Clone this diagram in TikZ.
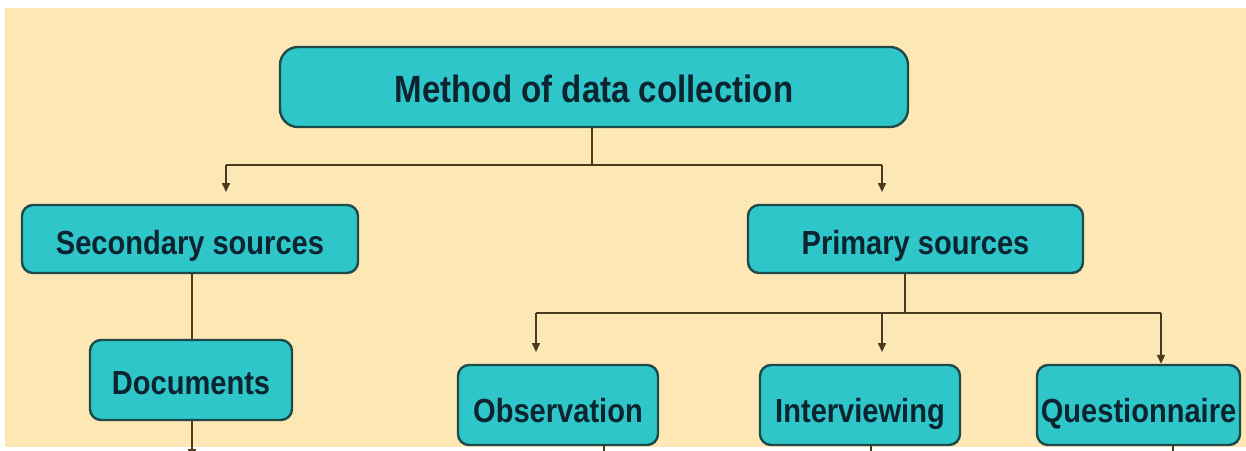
\documentclass[tikz,border=0pt]{standalone}
\usepackage{fontspec}
\setmainfont{Liberation Sans}
\newfontfamily\condfont[FakeStretch=0.87]{Liberation Sans}
\usetikzlibrary{arrows.meta,calc}
\definecolor{bgcream}{HTML}{FDE7B4}
\definecolor{boxfill}{HTML}{2EC6C9}
\definecolor{boxline}{HTML}{1E4A4A}
\definecolor{txtcol}{HTML}{0B2430}
\definecolor{linecol}{HTML}{4A3A1E}
\tikzset{
  box/.style={draw=boxline, line width=2.4pt, fill=boxfill, rounded corners=11pt,
    inner sep=0pt, text=txtcol, text depth=0pt, text height=30pt,
    font=\condfont\bfseries\fontsize{33.4}{36}\selectfont},
  topbox/.style={box, rounded corners=18pt, text height=30pt,
    font=\condfont\bfseries\fontsize{38}{40}\selectfont},
  lowbox/.style={box, text height=34pt},
  conn/.style={draw=linecol, line width=1.8pt},
  arr/.style={conn, -{Triangle[length=9pt,width=8pt]}},
}
\begin{document}
\begin{tikzpicture}[x=1pt,y=-1pt]
\useasboundingbox (0,0) rectangle (1246,450);
\fill[white] (0,0) rectangle (1246,450);
\fill[bgcream] (5,8) rectangle (1246,447);
\node[topbox, minimum width=628pt, minimum height=80pt] (top) at (594,87) {Method of data collection};
\node[box, minimum width=336pt, minimum height=68pt] (sec) at (190,239) {Secondary sources};
\node[box, minimum width=335pt, minimum height=68pt] (prim) at (915.5,239) {Primary sources};
\node[box, text height=28pt, minimum width=202pt, minimum height=80pt] (doc) at (191,380) {Documents};
\node[lowbox, minimum width=200pt, minimum height=80pt] (obs) at (558,405) {Observation};
\node[lowbox, minimum width=200pt, minimum height=80pt] (int) at (860,405) {Interviewing};
\node[lowbox, minimum width=203pt, minimum height=80pt] (que) at (1138.5,405) {Questionnaire};
% coordinates
\coordinate (tj) at (592,165);
\coordinate (tl) at (226,165);
\coordinate (tr) at (882,165);
\coordinate (tlE) at (226,192);
\coordinate (trE) at (882,192);
\coordinate (sd) at (192,300);
\coordinate (pj) at (905,313);
\coordinate (pl) at (536,313);
\coordinate (pm) at (882,313);
\coordinate (pr) at (1161,313);
\coordinate (plE) at (536,352);
\coordinate (pmE) at (882,352);
\coordinate (docE) at (192,458);
\coordinate (obsE) at (604,455);
\coordinate (intE) at (871,455);
\coordinate (queE) at (1173,455);
% connectors
\draw[conn] (top.south -| tj) -- (tj);
\draw[conn] (tl) -- (tr);
\draw[arr] (tl) -- (tlE);
\draw[arr] (tr) -- (trE);
\draw[conn] (sec.south -| sd) -- (doc.north -| sd);
\draw[arr] (doc.south -| sd) -- (docE);
\draw[conn] (prim.south -| pj) -- (pj);
\draw[conn] (pl) -- (pr);
\draw[arr] (pl) -- (plE);
\draw[arr] (pm) -- (pmE);
\draw[arr] (pr) -- (que.north -| pr);
\draw[conn] (obs.south -| obsE) -- (obsE);
\draw[conn] (int.south -| intE) -- (intE);
\draw[conn] (que.south -| queE) -- (queE);
\end{tikzpicture}
\end{document}
